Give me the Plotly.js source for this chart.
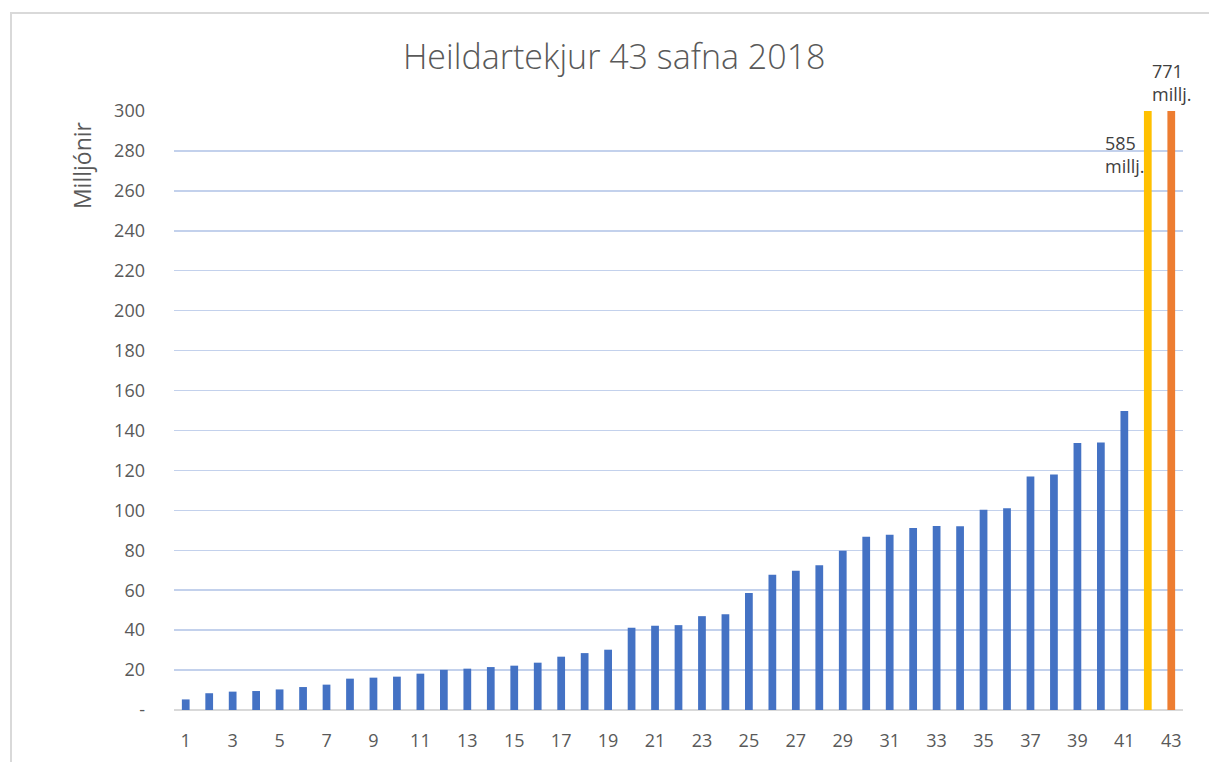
<!DOCTYPE html>
<html>
<head>
<meta charset="utf-8">
<script src="https://cdn.plot.ly/plotly-3.0.1.min.js"></script>
<style>
  html, body { margin: 0; padding: 0; background: #fff; }
  #wrap { position: relative; width: 1209px; height: 762px; overflow: hidden; }
  #chart { position: absolute; left: 0; top: 0; width: 1209px; height: 762px; }
  #frame { position: absolute; left: 10px; top: 12px; width: 1199px; height: 750px;
           border-left: 2px solid #D9D9D9; border-top: 2px solid #D9D9D9; pointer-events: none; }
</style>
</head>
<body>
<div id="wrap">
  <div id="chart"></div>
  <div id="frame"></div>
</div>
<script>
// Data
const categories = [1,2,3,4,5,6,7,8,9,10,11,12,13,14,15,16,17,18,19,20,21,22,23,24,25,26,27,28,29,30,31,32,33,34,35,36,37,38,39,40,41,42,43];
const revenues = [5.3,8.4,9.2,9.5,10.3,11.5,12.7,15.7,16.2,16.7,18.2,20.1,20.7,21.5,22.2,23.7,26.7,28.5,30.2,41.2,42.2,42.5,47.0,48.0,58.6,67.8,69.8,72.5,79.8,86.8,87.8,91.1,92.1,92.0,100.3,101.0,117.0,118.0,133.7,134.0,149.7,585,771];
const barColors = categories.map((c, i) => i === 41 ? '#FFC000' : (i === 42 ? '#ED7D31' : '#4472C4'));
const xTickVals = [1,3,5,7,9,11,13,15,17,19,21,23,25,27,29,31,33,35,37,39,41,43];
const yTickVals = [0,20,40,60,80,100,120,140,160,180,200,220,240,260,280,300];
const yTickText = ['-','20','40','60','80','100','120','140','160','180','200','220','240','260','280','300'];
const titleText = 'Heildartekjur 43 safna 2018';
const yTitleText = 'Milljónir';
const labelBig1 = '585<br>millj.';
const labelBig2 = '771<br>millj.';

const trace = {
  type: 'bar',
  x: categories,
  y: revenues,
  width: 0.33,
  marker: { color: barColors, line: { width: 0 } },
  hoverinfo: 'x+y'
};

const font = '"Open Sans", Lato, sans-serif';

const layout = {
  width: 1209,
  height: 762,
  margin: { l: 174, r: 26, t: 111, b: 52 },
  paper_bgcolor: 'rgba(0,0,0,0)',
  plot_bgcolor: 'rgba(0,0,0,0)',
  showlegend: false,
  title: {
    text: titleText,
    font: { family: font, size: 34, color: '#595959', weight: 300 },
    x: 0.508, xanchor: 'center',
    y: 0.925, yanchor: 'middle'
  },
  xaxis: {
    type: 'linear',
    range: [0.5, 43.5],
    tickvals: xTickVals,
    ticktext: xTickVals.map(String),
    tickfont: { family: font, size: 18, color: '#595959' },
    showgrid: false,
    zeroline: false,
    showline: false,
    ticks: '',
    ticklabelstandoff: 18,
    fixedrange: true
  },
  yaxis: {
    range: [0, 300],
    tickvals: yTickVals,
    ticktext: yTickText,
    tickfont: { family: font, size: 18, color: '#595959' },
    showgrid: true,
    gridcolor: '#C3D1EC',
    gridwidth: 1.5,
    zeroline: true,
    zerolinecolor: '#D9D9D9',
    zerolinewidth: 2,
    showline: false,
    ticks: '',
    ticklabelstandoff: 28,
    fixedrange: true
  },
  annotations: [
    {
      text: yTitleText, xref: 'paper', yref: 'paper',
      x: -0.091, y: 0.91, xanchor: 'center', yanchor: 'middle',
      textangle: -90, showarrow: false,
      font: { family: font, size: 23, color: '#595959' }
    },
    {
      text: labelBig1, xref: 'x', yref: 'y',
      x: 40.1, y: 278, xanchor: 'left', yanchor: 'middle', align: 'left',
      showarrow: false,
      font: { family: font, size: 18, color: '#404040' }
    },
    {
      text: labelBig2, xref: 'x', yref: 'paper',
      x: 42.1, y: 1.047, xanchor: 'left', yanchor: 'middle', align: 'left',
      showarrow: false,
      font: { family: font, size: 18, color: '#404040' }
    }
  ]
};

Plotly.newPlot('chart', [trace], layout, { displayModeBar: false, staticPlot: true });
</script>
</body>
</html>
